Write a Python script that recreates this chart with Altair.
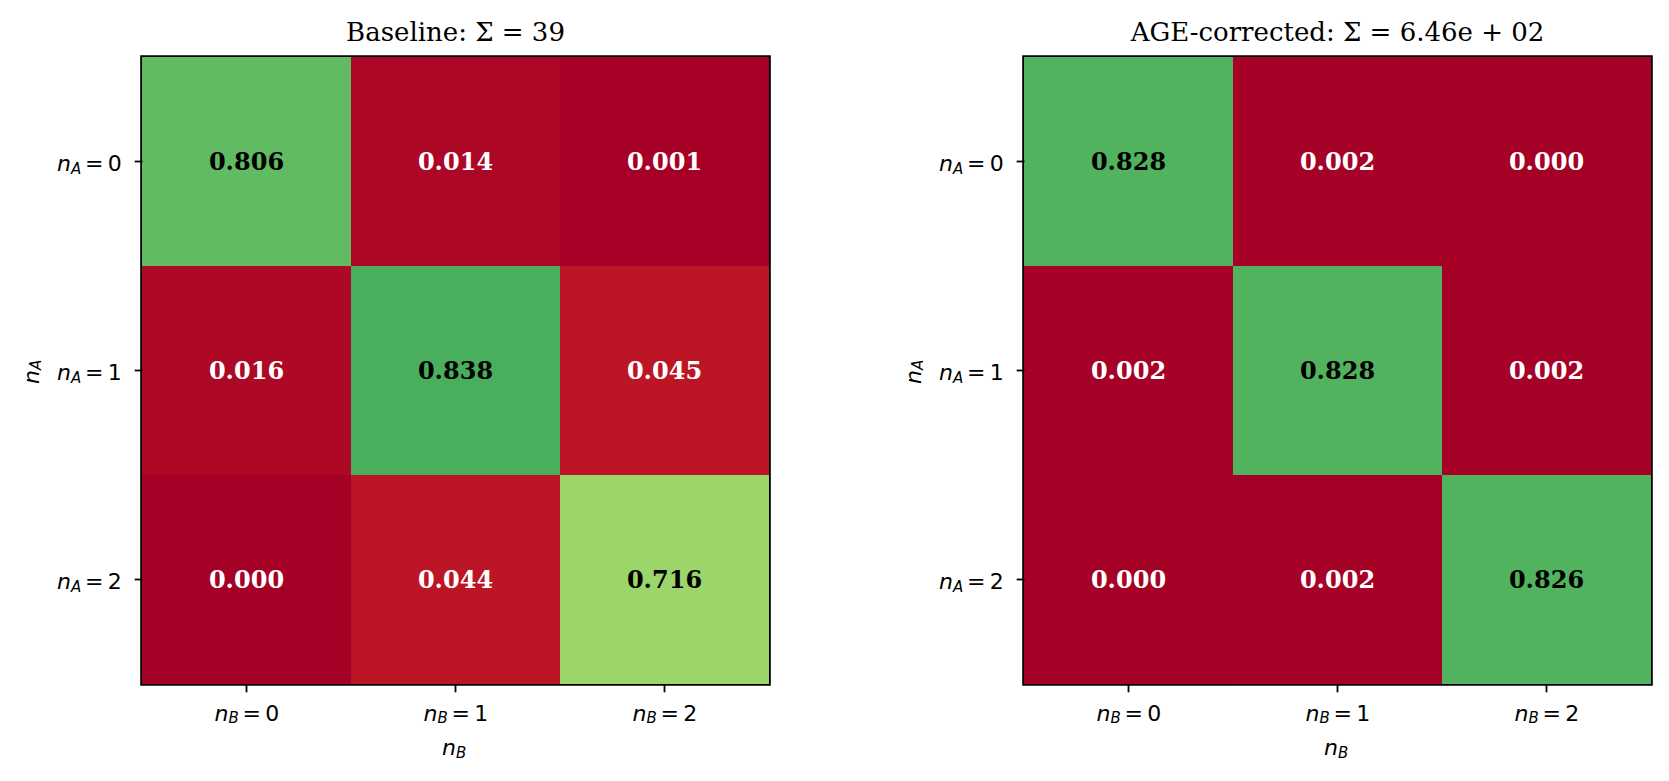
import altair as alt
import pandas as pd

# ---------------- data ----------------
n_values = [0, 1, 2]                      # occupation numbers n_A (rows) / n_B (columns)
baseline_title = "Baseline: Σ = 39"
baseline_matrix = [
    [0.806, 0.014, 0.001],
    [0.016, 0.838, 0.045],
    [0.000, 0.044, 0.716],
]
age_title = "AGE-corrected: Σ = 6.46e + 02"
age_matrix = [
    [0.828, 0.002, 0.000],
    [0.002, 0.828, 0.002],
    [0.000, 0.002, 0.826],
]
# matplotlib RdYlGn anchor colours (vmin=0, vmax=1)
rdylgn_stops = [0.0, 0.1, 0.2, 0.3, 0.4, 0.5, 0.6, 0.7, 0.8, 0.9, 1.0]
rdylgn_colors = ["#a50026", "#d73027", "#f46d43", "#fdae61", "#fee08b", "#ffffbf",
                 "#d9ef8b", "#a6d96a", "#66bd63", "#1a9850", "#006837"]

W = 627
H = 627
TICK_FS = 22
SUB_FS = 15
VAL_FS = 24
SANS = "DejaVu Sans"
SERIF = "DejaVu Serif"
EQ = "=\u2009"


def cells(matrix):
    rows = []
    for i, a in enumerate(n_values):
        for j, b in enumerate(n_values):
            rows.append({"nA": a, "nB": b, "value": matrix[i][j]})
    return pd.DataFrame(rows)


ticks_df = pd.DataFrame({"nA": n_values, "nB": n_values,
                         "eq": [EQ + str(v) for v in n_values]})
one_df = pd.DataFrame({"k": [0]})


def panel(matrix, title):
    df = cells(matrix)
    base = alt.Chart(df)
    ax = alt.Axis(labels=False, title=None, domain=False, grid=False,
                  ticks=True, tickColor="black", tickSize=7.8, tickWidth=1.8)
    band = alt.Scale(paddingInner=0, paddingOuter=0)
    rect = base.mark_rect(stroke=None).encode(
        x=alt.X("nB:O", axis=ax, scale=band),
        y=alt.Y("nA:O", axis=ax, scale=band),
        color=alt.Color("value:Q", legend=None,
                        scale=alt.Scale(domain=rdylgn_stops, range=rdylgn_colors,
                                        interpolate="rgb", clamp=True)),
    )
    vals = base.mark_text(font=SERIF, fontWeight="bold", fontSize=VAL_FS,
                          baseline="alphabetic", dy=8.5).encode(
        x=alt.X("nB:O"),
        y=alt.Y("nA:O"),
        text=alt.Text("value:Q", format=".3f"),
        color=alt.condition(alt.datum.value > 0.5, alt.value("black"), alt.value("white")),
    )
    tk = alt.Chart(ticks_df)
    # y tick labels  n_A = k
    yl_n = tk.mark_text(text="n", font=SANS, fontStyle="italic", fontSize=TICK_FS,
                        align="left", baseline="alphabetic", dy=9.5, color="black").encode(
        y=alt.Y("nA:O"), x=alt.value(-85))
    yl_s = tk.mark_text(text="A", font=SANS, fontStyle="italic", fontSize=SUB_FS,
                        align="left", baseline="alphabetic", dy=12.5, color="black").encode(
        y=alt.Y("nA:O"), x=alt.value(-71))
    yl_e = tk.mark_text(font=SANS, fontSize=TICK_FS, align="left",
                        baseline="alphabetic", dy=9.5, color="black").encode(
        y=alt.Y("nA:O"), x=alt.value(-57), text="eq:N")
    # x tick labels  n_B = k
    xl_n = tk.mark_text(text="n", font=SANS, fontStyle="italic", fontSize=TICK_FS,
                        align="left", baseline="alphabetic", dx=-32, color="black").encode(
        x=alt.X("nB:O"), y=alt.value(H + 36.5))
    xl_s = tk.mark_text(text="B", font=SANS, fontStyle="italic", fontSize=SUB_FS,
                        align="left", baseline="alphabetic", dx=-18, color="black").encode(
        x=alt.X("nB:O"), y=alt.value(H + 39))
    xl_e = tk.mark_text(font=SANS, fontSize=TICK_FS, align="left",
                        baseline="alphabetic", dx=-4, color="black").encode(
        x=alt.X("nB:O"), y=alt.value(H + 36.5), text="eq:N")
    # axis titles
    one = alt.Chart(one_df)
    xt_n = one.mark_text(text="n", font=SANS, fontStyle="italic", fontSize=TICK_FS,
                         align="left", baseline="alphabetic", color="black").encode(
        x=alt.value(W / 2 - 13.5), y=alt.value(H + 71))
    xt_s = one.mark_text(text="B", font=SANS, fontStyle="italic", fontSize=SUB_FS,
                         align="left", baseline="alphabetic", color="black").encode(
        x=alt.value(W / 2 + 0.5), y=alt.value(H + 73.5))
    yt_n = one.mark_text(text="n", font=SANS, fontStyle="italic", fontSize=TICK_FS,
                         align="left", baseline="alphabetic", angle=270, color="black").encode(
        x=alt.value(-103.5), y=alt.value(H / 2 + 13.5))
    yt_s = one.mark_text(text="A", font=SANS, fontStyle="italic", fontSize=SUB_FS,
                         align="left", baseline="alphabetic", angle=270, color="black").encode(
        x=alt.value(-101), y=alt.value(H / 2 - 0.5))
    return alt.layer(rect, vals, yl_n, yl_s, yl_e, xl_n, xl_s, xl_e,
                     xt_n, xt_s, yt_n, yt_s).properties(
        width=W, height=H,
        title=alt.TitleParams(title, font=SERIF, fontSize=26, fontWeight="normal",
                              color="black", anchor="middle", frame="group",
                              baseline="alphabetic", offset=-10),
    )


chart = alt.hconcat(panel(baseline_matrix, baseline_title),
                    panel(age_matrix, age_title),
                    spacing=255, bounds="flush").resolve_scale(color="shared").properties(
    padding={"left": 10, "top": 10, "right": 5, "bottom": 5},
).configure(
    background="white",
    view=alt.ViewConfig(stroke="black", strokeWidth=3.6),
    axis=alt.AxisConfig(ticks=True, tickColor="black", tickSize=7.8, tickWidth=1.8),
)

chart.save("out.html", embed_options={"renderer": "svg", "actions": False})
